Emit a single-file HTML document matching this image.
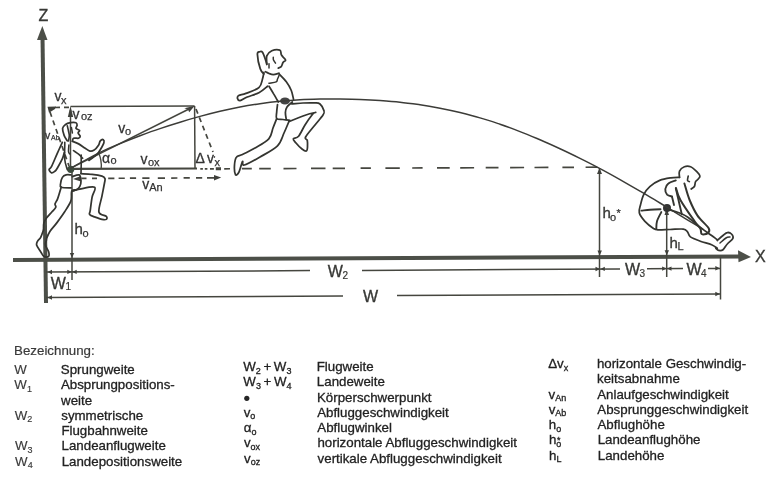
<!DOCTYPE html>
<html><head><meta charset="utf-8">
<style>
html,body{margin:0;padding:0;background:#fff;}
body{width:775px;height:485px;overflow:hidden;position:relative;}
svg{position:absolute;left:0;top:0;will-change:transform;filter:blur(0.3px);}
text{font-family:"Liberation Sans",sans-serif;fill:#222;stroke:#222;stroke-width:0.3px;}
.lg{font-size:13.3px;}
.sub{font-size:9px;}
.dl{font-size:16px;fill:#383936;stroke:#383936;stroke-width:0.35px;}
.ds{font-size:11px;fill:#383936;stroke:#383936;stroke-width:0.2px;}
.vl{font-size:14px;fill:#333;stroke:#333;stroke-width:0.3px;}
.vs{font-size:11px;fill:#333;stroke:#333;stroke-width:0.25px;}
</style></head><body>
<svg width="775" height="485" viewBox="0 0 775 485">
<!-- axes -->
<g stroke="#4c4f48" fill="none">
  <line x1="42.5" y1="36" x2="46" y2="303" stroke-width="4"/>
  <line x1="13" y1="260" x2="742" y2="256.5" stroke-width="4"/>
</g>
<polygon points="42.3,26 37,40 47.5,40" fill="#4c4f48"/>
<polygon points="751,257 738,250.3 738.5,262.3" fill="#4c4f48"/>
<text x="38.5" y="20.7" class="dl">Z</text>
<text x="755" y="262.2" class="dl">X</text>

<!-- dimension lines -->
<g stroke="#45463f" stroke-width="1.5" fill="none">
  <line x1="46" y1="272" x2="310" y2="270.6"/>
  <line x1="362" y1="270.4" x2="620" y2="268.9"/>
  <line x1="647" y1="268.8" x2="683" y2="268.6"/>
  <line x1="708" y1="268.5" x2="720" y2="268.4"/>
  <line x1="46" y1="297.6" x2="343" y2="296"/>
  <line x1="397" y1="295.6" x2="720" y2="294"/>
  <line x1="72" y1="169" x2="72" y2="280"/>
  <line x1="599.5" y1="168" x2="599.5" y2="277"/>
  <line x1="666.7" y1="208" x2="666.7" y2="277"/>
  <line x1="720.5" y1="257" x2="720.5" y2="299.5"/>
  <!-- rectangle & vectors -->
  <line x1="70.5" y1="106.5" x2="194.5" y2="106"/>
  <line x1="70.5" y1="169" x2="70.5" y2="110"/>
  <line x1="194.6" y1="106" x2="195" y2="168.5"/>
  <line x1="70.5" y1="168.8" x2="197" y2="168.5" stroke-width="2.2"/>
  <line x1="70.3" y1="168.4" x2="190" y2="108.5" stroke-width="1.6"/>
</g>
<g stroke="#45463f" stroke-width="1.7" fill="none" stroke-dasharray="5 4">
  <line x1="55" y1="107.5" x2="70" y2="107.3"/>
  <line x1="50" y1="112" x2="69" y2="166"/>
  <line x1="196" y1="109" x2="213" y2="152"/>
</g>
<path d="M200.3,168.90L202.9,168.89M204.8,168.88L207.4,168.87M210.0,168.86L213.9,168.84M224.2,168.80L230.0,168.77M241.9,168.72L251.8,168.68M259.2,168.65L270.8,168.60M283.5,168.55L296.5,168.49M311.0,168.43L325.5,168.37M332.7,168.34L345.0,168.28M360.6,168.22L370.9,168.17M385.4,168.11L399.8,168.05M412.2,168.00L422.6,167.95M437.0,167.89L449.7,167.84M460.2,167.79L474.1,167.74M485.7,167.69L498.5,167.63M510.1,167.58L524.1,167.52M534.5,167.48L548.4,167.42M562.4,167.36L574.0,167.31M585.6,167.26L597.2,167.21" stroke="#45463f" stroke-width="1.7" fill="none"/>
<path d="M215.8,168.83L221.0,168.81" stroke="#45463f" stroke-width="3" fill="none"/>
<path d="M81.4,178.45L86.5,178.42M92.0,178.40L97.0,178.37M108.2,178.32L114.4,178.29M118.6,178.27L124.8,178.24M129.9,178.22L136.1,178.19M142.3,178.16L149.5,178.13M157.8,178.09L165.0,178.06M171.2,178.03L177.4,178.00M183.6,177.97L189.8,177.94M196.0,177.91L202.2,177.88M207.0,177.86L216.0,177.82" stroke="#45463f" stroke-width="1.7" fill="none"/>
<polygon points="194.8,105.8 184.3,108.2 188,109.6 189.2,112.3" fill="#3f403b"/>
<polygon points="70.5,106 67.8,117 73.2,117" fill="#3f403b"/>
<polygon points="47.5,106.8 56,106.6 55,109 49,112.8" fill="#3f403b"/>
<polygon points="73,179 81,176 81,181.5" fill="#3f403b"/>
<polygon points="221.2,177.6 214,175 214,180.5" fill="#3f403b"/>
<polygon points="599.5,168 597,174 602,174" fill="#3f403b"/>
<polygon points="666.7,208 664.5,215 669,215" fill="#3f403b"/>
<circle cx="70.7" cy="169.3" r="3.6" fill="#3c4a3c"/>
<circle cx="667" cy="208" r="4" fill="#333"/>
<ellipse cx="285" cy="101" rx="5" ry="3.5" fill="#444"/>
<path d="M98.4,152.5 Q102,160 101.2,169" stroke="#45463f" stroke-width="1.4" fill="none"/>

<polygon points="47.5,272.0 52.0,269.8 52.0,274.2" fill="#3f403b"/>
<polygon points="71.8,271.9 67.3,274.1 67.3,269.7" fill="#3f403b"/>
<polygon points="72.2,271.9 76.7,269.7 76.7,274.1" fill="#3f403b"/>
<polygon points="600.0,269.0 595.5,271.2 595.5,266.8" fill="#3f403b"/>
<polygon points="600.3,268.9 604.8,266.7 604.8,271.1" fill="#3f403b"/>
<polygon points="666.6,268.6 662.1,270.8 662.1,266.4" fill="#3f403b"/>
<polygon points="667.0,268.6 671.5,266.4 671.5,270.8" fill="#3f403b"/>
<polygon points="719.8,268.3 715.3,270.5 715.3,266.1" fill="#3f403b"/>
<polygon points="47.5,297.5 52.0,295.3 52.0,299.7" fill="#3f403b"/>
<polygon points="719.8,294.0 715.3,296.2 715.3,291.8" fill="#3f403b"/>
<polygon points="72.0,258.0 69.8,253.0 74.2,253.0" fill="#3f403b"/>
<polygon points="599.7,255.5 597.5,250.5 601.9,250.5" fill="#3f403b"/>
<polygon points="666.8,255.2 664.6,250.2 669.0,250.2" fill="#3f403b"/>
<!-- trajectory -->
<path d="M70.3,168.4 C75.2,165.7 91.7,156.5 100.0,152.4 C108.3,148.2 113.3,146.4 120.0,143.6 C126.7,140.8 133.3,138.2 140.0,135.7 C146.7,133.2 153.3,130.8 160.0,128.6 C166.7,126.3 173.3,124.2 180.0,122.2 C186.7,120.1 193.3,118.2 200.0,116.4 C206.7,114.6 213.3,112.9 220.0,111.3 C226.7,109.8 233.3,108.4 240.0,107.1 C246.7,105.8 253.3,104.7 260.0,103.7 C266.7,102.8 273.3,102.0 280.0,101.3 C286.7,100.7 293.3,100.2 300.0,99.8 C306.7,99.5 313.3,99.3 320.0,99.1 C326.7,99.0 333.3,99.0 340.0,99.0 C346.7,99.1 353.3,99.2 360.0,99.5 C366.7,99.7 373.3,100.0 380.0,100.5 C386.7,101.0 393.3,101.5 400.0,102.2 C406.7,102.9 413.3,103.8 420.0,104.7 C426.7,105.7 433.3,106.9 440.0,108.2 C446.7,109.5 453.3,110.9 460.0,112.5 C466.7,114.2 473.3,115.9 480.0,117.9 C486.7,119.8 493.3,122.0 500.0,124.2 C506.7,126.5 513.3,129.0 520.0,131.6 C526.7,134.2 533.3,137.0 540.0,139.8 C546.7,142.7 553.3,145.7 560.0,148.8 C566.7,151.9 573.3,155.1 580.0,158.4 C586.7,161.7 593.3,165.1 600.0,168.6 C606.7,172.1 613.3,175.8 620.0,179.6 C626.7,183.4 633.3,187.2 640.0,191.1 C646.7,195.0 653.3,199.0 660.0,203.0 C666.7,207.1 673.3,211.2 680.0,215.3 C686.7,219.3 696.2,225.2 700.0,227.5 C703.8,229.8 702.5,229.0 703.0,229.3" stroke="#3c3c38" stroke-width="1.5" fill="none"/>

<!-- figures -->
<path d="M67.3,140.8 C66.8,139.9 65.0,137.7 64.2,135.6 C63.4,133.5 62.4,130.2 62.6,128.4 C62.8,126.6 63.9,125.8 65.2,124.8 C66.5,123.8 68.6,123.0 70.4,122.7 C72.2,122.4 74.9,122.3 76.0,122.7 C77.1,123.1 77.1,124.3 77.1,125.3 C77.1,126.2 75.6,127.5 76.0,128.4 C76.4,129.3 79.2,129.7 79.6,130.5 C79.9,131.3 78.0,132.1 78.1,133.0 C78.2,133.9 80.1,135.2 80.2,136.1 C80.3,137.0 79.7,137.8 78.6,138.2 C77.5,138.5 74.5,137.7 73.5,138.2 C72.5,138.7 72.6,140.8 72.4,141.3" stroke="#343530" stroke-width="1.75" fill="none" stroke-linejoin="round" stroke-linecap="round"/>
<path d="M67.3,125.8 C67.5,126.7 68.2,129.4 68.5,131.0 C68.8,132.6 69.3,133.9 69.3,135.6 C69.3,137.3 68.6,140.1 68.5,141.0" stroke="#343530" stroke-width="1.625" fill="none" stroke-linejoin="round" stroke-linecap="round"/>
<path d="M71.4,127.4 C71.6,128.3 72.2,132.1 72.4,133.0" stroke="#343530" stroke-width="1.5" fill="none" stroke-linejoin="round" stroke-linecap="round"/>
<path d="M72.4,141.3 C73.4,141.7 76.5,142.8 78.6,143.9 C80.7,145.0 82.9,146.8 84.8,148.0 C86.7,149.2 88.5,150.8 90.0,151.1 C91.5,151.4 92.6,151.1 94.1,150.1 C95.5,149.1 97.7,146.4 98.7,144.9 C99.7,143.4 99.5,141.7 100.3,140.8 C101.1,139.9 102.8,139.4 103.4,139.7 C104.0,140.0 104.2,141.4 103.9,142.8 C103.6,144.2 102.4,146.1 101.3,148.0 C100.2,149.9 98.8,152.5 97.2,154.2 C95.7,155.9 93.4,157.3 92.0,158.3 C90.6,159.3 89.4,160.1 88.9,160.4" stroke="#343530" stroke-width="1.75" fill="none" stroke-linejoin="round" stroke-linecap="round"/>
<path d="M73.5,150.6 C74.3,151.2 77.1,152.9 78.6,154.2 C80.1,155.5 82.0,157.6 82.7,158.3" stroke="#343530" stroke-width="1.625" fill="none" stroke-linejoin="round" stroke-linecap="round"/>
<path d="M81.2,155.0 C81.2,156.7 81.2,161.9 81.2,165.0 C81.2,168.1 81.0,172.1 81.0,173.5" stroke="#343530" stroke-width="1.625" fill="none" stroke-linejoin="round" stroke-linecap="round"/>
<path d="M62.3,142.4 C61.5,144.2 59.2,149.1 57.4,153.1 C55.6,157.1 53.0,163.6 51.6,166.3 C50.2,169.1 49.1,168.5 49.1,169.6 C49.1,170.7 50.6,172.6 51.6,172.9 C52.6,173.2 53.9,172.1 54.9,171.3 C55.9,170.5 56.2,170.1 57.4,168.0 C58.6,165.9 61.1,161.5 62.3,158.9 C63.5,156.3 64.1,153.4 64.4,152.3" stroke="#343530" stroke-width="1.75" fill="none" stroke-linejoin="round" stroke-linecap="round"/>
<path d="M64.8,142.4 C64.8,145.3 64.4,155.2 64.8,159.7 C65.2,164.2 66.9,167.9 67.3,169.6" stroke="#343530" stroke-width="1.625" fill="none" stroke-linejoin="round" stroke-linecap="round"/>
<path d="M68.9,144.9 C68.8,146.0 68.4,150.0 68.5,151.5 C68.6,153.0 69.5,153.6 69.7,154.0" stroke="#343530" stroke-width="1.5" fill="none" stroke-linejoin="round" stroke-linecap="round"/>
<path d="M71.1,174.9 C70.3,174.9 67.5,174.5 66.1,174.9 C64.6,175.3 63.3,176.0 62.4,177.4 C61.5,178.8 60.8,181.9 60.6,183.5 C60.4,185.1 59.5,186.5 61.2,187.2 C63.0,187.9 69.4,187.8 71.1,187.9" stroke="#343530" stroke-width="1.75" fill="none" stroke-linejoin="round" stroke-linecap="round"/>
<path d="M72.3,176.7 C73.4,176.4 77.6,174.2 79.1,174.9 C80.5,175.6 80.9,179.2 81.0,181.1 C81.1,183.0 80.4,185.2 79.7,186.6 C79.0,188.0 77.8,189.0 76.6,189.7 C75.4,190.4 73.0,190.8 72.3,191.0" stroke="#343530" stroke-width="1.75" fill="none" stroke-linejoin="round" stroke-linecap="round"/>
<path d="M81.0,173.7 C82.8,173.8 88.6,173.9 92.1,174.3 C95.6,174.7 99.8,175.4 102.0,176.1 C104.2,176.8 104.6,177.4 105.0,178.6 C105.4,179.8 104.9,180.6 104.4,183.5 C103.9,186.4 102.9,191.2 102.0,195.9 C101.1,200.7 98.2,208.6 98.9,212.0 C99.6,215.4 105.1,215.1 106.3,216.3 C107.5,217.5 107.0,218.9 106.3,219.4 C105.6,219.9 104.0,219.8 102.0,219.4 C100.0,219.0 96.7,217.7 94.6,216.9 C92.5,216.1 90.3,215.4 89.6,214.4 C88.9,213.4 89.8,213.6 90.2,210.7 C90.6,207.8 91.4,201.0 92.1,197.1 C92.8,193.2 96.7,188.5 94.6,187.2 C92.5,185.9 83.4,188.5 79.7,189.1 C76.0,189.7 73.5,190.7 72.3,191.0" stroke="#343530" stroke-width="1.75" fill="none" stroke-linejoin="round" stroke-linecap="round"/>
<path d="M61.2,187.2 C60.8,188.4 59.6,192.5 59.0,194.5 C58.4,196.5 58.1,197.7 57.4,199.3 C56.7,200.9 55.3,202.7 55.0,204.0 C54.7,205.3 56.3,205.9 55.8,207.2 C55.3,208.5 53.4,210.2 51.8,212.0 C50.2,213.8 47.6,216.5 46.3,218.3 C45.0,220.1 44.4,221.1 43.9,223.0 C43.4,224.9 43.6,228.8 43.5,230.0" stroke="#343530" stroke-width="1.75" fill="none" stroke-linejoin="round" stroke-linecap="round"/>
<path d="M43.5,230.0 C43.0,231.2 41.7,235.5 40.7,237.4 C39.7,239.3 38.2,240.0 37.5,241.3 C36.8,242.6 36.2,243.6 36.7,245.3 C37.2,247.0 39.5,249.8 40.7,251.7 C41.9,253.5 42.6,255.6 43.9,256.4 C45.2,257.2 47.8,257.2 48.6,256.4 C49.4,255.6 49.1,253.5 48.6,251.7 C48.1,249.8 45.9,247.2 45.5,245.3 C45.1,243.4 46.0,241.8 46.3,240.5 C46.5,239.2 46.4,239.0 47.0,237.4 C47.6,235.8 48.6,233.4 50.2,231.0 C51.8,228.6 54.2,226.3 56.6,223.1 C59.0,219.9 62.1,215.7 64.5,212.0 C66.9,208.3 69.7,204.3 70.9,200.9 C72.1,197.5 70.9,193.2 71.7,191.3 C72.5,189.5 74.9,190.1 75.6,189.8" stroke="#343530" stroke-width="1.75" fill="none" stroke-linejoin="round" stroke-linecap="round"/>
<path d="M266.8,64.5 C266.7,64.0 266.8,63.6 266.1,61.6 C265.4,59.6 263.6,53.9 262.5,52.3 C261.4,50.7 260.4,51.4 259.5,51.8 C258.6,52.1 257.3,51.5 257.4,54.4 C257.5,57.2 259.2,65.7 260.3,68.9 C261.4,72.2 263.3,73.1 263.9,73.9" stroke="#343530" stroke-width="1.75" fill="none" stroke-linejoin="round" stroke-linecap="round"/>
<path d="M266.8,64.0 C266.8,62.6 266.0,58.1 266.8,55.9 C267.6,53.7 269.6,51.8 271.8,50.8 C274.0,49.8 278.2,49.5 279.8,50.1 C281.4,50.7 280.7,53.2 281.2,54.4 C281.7,55.5 282.3,56.0 283.0,57.0 C283.7,58.0 285.6,59.3 285.6,60.2 C285.6,61.1 283.7,61.4 283.0,62.5 C282.3,63.6 282.0,65.8 281.2,66.7 C280.4,67.6 278.8,67.9 278.3,68.1" stroke="#343530" stroke-width="1.75" fill="none" stroke-linejoin="round" stroke-linecap="round"/>
<path d="M273.3,57.3 C273.3,57.8 273.1,59.0 273.5,60.0 C273.9,61.0 275.2,62.6 275.5,63.1" stroke="#343530" stroke-width="1.5" fill="none" stroke-linejoin="round" stroke-linecap="round"/>
<path d="M269.0,63.8 C269.0,64.5 269.0,67.4 269.0,68.1" stroke="#343530" stroke-width="1.5" fill="none" stroke-linejoin="round" stroke-linecap="round"/>
<path d="M265.4,71.7 C266.0,72.0 267.7,73.0 269.0,73.5 C270.3,74.0 271.6,74.6 273.3,74.6 C275.0,74.5 278.1,73.4 279.0,73.2" stroke="#343530" stroke-width="1.75" fill="none" stroke-linejoin="round" stroke-linecap="round"/>
<path d="M263.9,72.5 C263.7,73.6 263.3,76.5 262.5,79.0 C261.7,81.5 261.7,85.2 258.9,87.6 C256.1,90.0 249.3,92.1 245.9,93.4 C242.5,94.7 240.1,94.8 238.7,95.6 C237.3,96.4 237.3,97.7 237.5,98.5 C237.7,99.3 238.5,100.8 240.1,100.6 C241.7,100.3 244.2,98.3 247.3,97.0 C250.4,95.7 255.5,94.5 258.9,92.7 C262.3,90.9 266.1,87.3 267.5,86.2" stroke="#343530" stroke-width="1.75" fill="none" stroke-linejoin="round" stroke-linecap="round"/>
<path d="M279.0,75.4 C278.8,76.0 278.0,77.9 277.5,79.0 C277.0,80.1 277.6,81.1 276.2,81.8 C274.8,82.5 270.2,83.0 269.0,83.3" stroke="#343530" stroke-width="1.5" fill="none" stroke-linejoin="round" stroke-linecap="round"/>
<path d="M279.0,73.9 C280.2,75.2 284.2,79.0 286.3,81.8 C288.4,84.6 290.1,87.6 291.3,90.5 C292.5,93.4 293.1,97.8 293.5,99.2" stroke="#343530" stroke-width="1.75" fill="none" stroke-linejoin="round" stroke-linecap="round"/>
<path d="M269.0,86.2 C269.7,87.4 271.8,90.8 273.3,93.4 C274.9,96.0 277.5,100.6 278.3,102.0" stroke="#343530" stroke-width="1.75" fill="none" stroke-linejoin="round" stroke-linecap="round"/>
<path d="M277.5,104.6 C277.4,105.8 276.8,109.7 276.7,112.0 C276.6,114.3 275.6,117.3 276.7,118.6 C277.8,119.8 280.8,119.2 283.0,119.5 C285.2,119.8 288.7,120.2 289.8,120.4" stroke="#343530" stroke-width="1.75" fill="none" stroke-linejoin="round" stroke-linecap="round"/>
<path d="M292.4,102.0 C291.5,102.8 288.2,105.2 287.0,107.0 C285.8,108.8 285.5,110.4 285.4,112.5 C285.3,114.6 286.1,118.3 286.3,119.5" stroke="#343530" stroke-width="1.75" fill="none" stroke-linejoin="round" stroke-linecap="round"/>
<path d="M291.5,103.8 C293.4,103.7 299.2,103.2 303.0,103.0 C306.8,102.8 311.5,102.7 314.3,102.9 C317.1,103.1 318.4,102.7 320.0,104.0 C321.6,105.3 323.5,109.0 324.0,110.8 C324.5,112.6 324.5,112.6 323.0,115.0 C321.5,117.4 317.9,121.3 315.0,125.0 C312.1,128.7 306.9,134.4 305.6,137.0 C304.3,139.6 307.0,138.8 307.3,140.5 C307.6,142.2 307.6,145.2 307.5,147.0 C307.4,148.8 307.3,150.7 306.4,151.0 C305.5,151.3 303.7,150.3 302.0,149.0 C300.3,147.7 297.4,144.7 296.0,143.0 C294.6,141.3 292.9,139.9 293.3,138.8 C293.7,137.7 296.7,138.5 298.6,136.2 C300.6,133.9 302.7,128.7 305.0,125.0 C307.3,121.3 310.9,116.4 312.6,114.3 C314.3,112.2 316.8,112.2 315.2,112.5 C313.6,112.8 307.2,114.5 303.0,116.0 C298.8,117.5 292.0,120.4 289.8,121.3" stroke="#343530" stroke-width="1.75" fill="none" stroke-linejoin="round" stroke-linecap="round"/>
<path d="M276.7,118.6 C276.1,120.2 274.3,124.6 273.0,128.0 C271.7,131.4 271.8,135.5 268.8,138.8 C265.8,142.1 259.4,145.4 255.0,148.0 C250.6,150.6 245.6,153.0 242.5,154.5 C239.4,156.0 237.7,155.4 236.4,157.2 C235.1,158.9 234.7,162.1 234.5,165.0 C234.3,167.9 234.8,173.5 235.5,174.7 C236.2,175.9 237.8,174.2 239.0,172.0 C240.2,169.8 241.6,162.7 242.5,161.5 C243.4,160.3 241.4,165.8 244.3,165.0 C247.2,164.2 254.5,160.2 260.0,157.0 C265.5,153.8 273.5,149.8 277.5,145.8 C281.5,141.8 282.1,137.1 284.0,133.0 C285.9,128.9 288.2,123.2 289.0,121.3" stroke="#343530" stroke-width="1.75" fill="none" stroke-linejoin="round" stroke-linecap="round"/>
<path d="M679.5,177.3 C679.5,176.3 678.7,172.8 679.5,171.1 C680.3,169.3 682.5,167.5 684.4,166.8 C686.2,166.1 688.5,166.0 690.6,166.8 C692.7,167.6 695.2,170.1 696.8,171.7 C698.3,173.2 699.7,174.8 699.9,176.1 C700.1,177.3 698.7,178.3 698.0,179.2 C697.3,180.1 696.1,180.8 695.6,181.6 C695.1,182.4 695.2,183.3 695.0,184.1 C694.8,184.9 694.9,185.8 694.3,186.6 C693.7,187.4 691.7,188.6 691.2,189.0" stroke="#343530" stroke-width="1.75" fill="none" stroke-linejoin="round" stroke-linecap="round"/>
<path d="M688.2,176.1 C688.1,176.8 687.3,179.5 687.5,180.4 C687.7,181.3 689.1,181.4 689.4,181.6" stroke="#343530" stroke-width="1.625" fill="none" stroke-linejoin="round" stroke-linecap="round"/>
<path d="M679.5,177.3 C678.0,177.4 674.1,177.4 670.8,177.9 C667.5,178.4 663.2,179.0 659.7,180.4 C656.2,181.8 652.5,184.2 649.8,186.6 C647.1,189.0 645.2,191.6 643.7,194.6 C642.2,197.6 641.3,201.5 640.6,204.5 C639.9,207.5 638.6,210.0 639.3,212.8 C640.0,215.6 642.5,218.7 644.9,221.3 C647.3,223.9 651.4,227.0 653.5,228.4 C655.6,229.8 655.0,229.6 657.7,229.8 C660.5,230.0 665.7,229.6 670.0,229.5 C674.3,229.4 680.4,228.7 683.3,229.1 C686.2,229.5 686.3,230.6 687.5,231.9 C688.7,233.2 688.3,235.4 690.4,236.9 C692.5,238.4 696.8,239.9 700.3,241.2 C703.8,242.5 708.8,243.5 711.6,244.7 C714.4,245.9 716.3,247.7 717.3,248.3" stroke="#343530" stroke-width="1.75" fill="none" stroke-linejoin="round" stroke-linecap="round"/>
<path d="M641.4,210.6 C642.8,210.5 646.8,210.0 650.0,209.8 C653.2,209.6 658.8,209.3 660.5,209.2" stroke="#343530" stroke-width="1.875" fill="none" stroke-linejoin="round" stroke-linecap="round"/>
<path d="M661.3,212.1 C660.6,213.6 657.8,218.5 657.0,221.3 C656.2,224.1 656.4,227.8 656.3,229.1" stroke="#343530" stroke-width="1.875" fill="none" stroke-linejoin="round" stroke-linecap="round"/>
<path d="M675.8,180.4 C674.6,180.9 670.1,182.1 668.4,183.5 C666.6,184.9 665.5,187.2 665.3,189.0 C665.1,190.8 666.0,193.3 667.1,194.6 C668.2,195.8 671.3,196.2 672.1,196.5" stroke="#343530" stroke-width="1.875" fill="none" stroke-linejoin="round" stroke-linecap="round"/>
<path d="M667.6,209.2 C669.5,209.8 675.7,211.5 679.0,212.8 C682.3,214.1 684.9,215.3 687.5,217.0 C690.1,218.7 692.2,220.8 694.6,222.7 C697.0,224.6 698.9,226.3 701.7,228.4 C704.5,230.5 709.0,233.6 711.6,235.5 C714.2,237.4 716.3,239.0 717.3,239.7" stroke="#343530" stroke-width="1.75" fill="none" stroke-linejoin="round" stroke-linecap="round"/>
<path d="M675.8,188.4 C676.2,190.3 677.5,195.7 678.5,200.0 C679.5,204.3 681.2,211.8 681.8,214.2" stroke="#343530" stroke-width="1.875" fill="none" stroke-linejoin="round" stroke-linecap="round"/>
<path d="M672.1,197.1 C672.4,198.4 673.7,203.7 674.0,205.0" stroke="#343530" stroke-width="1.875" fill="none" stroke-linejoin="round" stroke-linecap="round"/>
<path d="M684.4,183.5 C685.3,186.2 687.4,194.7 689.6,200.0 C691.8,205.3 694.3,210.9 697.5,215.6 C700.7,220.3 707.1,225.4 708.8,228.4 C710.4,231.4 708.6,232.5 707.4,233.4 C706.2,234.3 702.9,234.8 701.7,234.0 C700.5,233.2 701.5,230.5 700.3,228.4 C699.1,226.3 697.9,226.0 694.6,221.3 C691.3,216.6 683.5,205.6 680.4,200.0 C677.3,194.4 676.7,190.0 676.0,188.0" stroke="#343530" stroke-width="2.0" fill="none" stroke-linejoin="round" stroke-linecap="round"/>
<path d="M717.3,240.5 C718.2,239.7 721.3,236.8 723.0,235.5 C724.7,234.2 725.9,232.8 727.3,232.6 C728.7,232.3 730.6,233.1 731.5,234.0 C732.4,234.9 733.6,236.6 732.9,238.3 C732.2,240.0 728.9,242.1 727.3,244.0 C725.6,245.9 724.4,248.6 723.0,249.7 C721.6,250.8 719.9,250.6 718.7,250.4 C717.5,250.2 716.4,248.7 715.9,248.3" stroke="#343530" stroke-width="1.75" fill="none" stroke-linejoin="round" stroke-linecap="round"/>
<path d="M720.0,243.0 C721.0,242.2 724.3,239.0 726.0,238.0 C727.7,237.0 729.3,237.2 730.0,237.0" stroke="#343530" stroke-width="1.5" fill="none" stroke-linejoin="round" stroke-linecap="round"/>

<!-- diagram labels -->
<text class="vl" x="54.5" y="100.9">v</text><text class="vs" x="61" y="103.6">x</text>
<text class="vl" x="72.5" y="118.9">v</text><text class="vs" x="81" y="120.2">oz</text>
<text class="vl" x="118.3" y="133">v</text><text class="vs" x="125" y="135">o</text>
<text class="vl" x="45" y="138.6" style="font-size:10.5px">v</text><text class="vs" x="51" y="140.4" style="font-size:7px">Ab</text>
<text class="vl" x="102" y="163.3">α</text><text class="vs" x="110.5" y="164.4">o</text>
<text class="vl" x="140.6" y="164.4">v</text><text class="vs" x="148" y="166.1">ox</text>
<text class="vl" x="142.3" y="189.4">v</text><text class="vs" x="149.2" y="191">An</text>
<text class="vl" x="195.5" y="163.2">Δ</text><text class="vl" x="207" y="162.7">v</text><text class="vs" x="214.4" y="165.5">x</text>
<text class="vs" x="213.5" y="157" style="font-size:8px">,</text>
<text class="dl" x="74.5" y="233.5" style="font-size:15px">h</text><text class="vs" x="82.5" y="236.8">o</text>
<text class="dl" x="602.5" y="218" style="font-size:15px">h</text><text class="vs" x="610" y="220.8">o</text><text class="vs" x="616.5" y="217">*</text>
<text class="dl" x="669.5" y="247.6" style="font-size:15px">h</text><text class="vs" x="677.5" y="249.8">L</text>
<text class="dl" x="50.7" y="288.6">W</text><text class="ds" x="65.5" y="290.4" style="font-size:10px">1</text>
<text class="dl" x="327.8" y="277">W</text><text class="ds" x="342.5" y="278.8" style="font-size:10px">2</text>
<text class="dl" x="363" y="302">W</text>
<text class="dl" x="625" y="275.3">W</text><text class="ds" x="639.5" y="277.2" style="font-size:10px">3</text>
<text class="dl" x="686.5" y="275.3">W</text><text class="ds" x="701" y="277.2" style="font-size:10px">4</text>

<!-- legend -->
<text class="lg" x="14.1" y="355" style="fill:#3a3a3a;stroke:#3a3a3a;stroke-width:0.2px">Bezeichnung:</text>
<text class="lg" x="14.20" y="374.10" style="fill:#3a3a3a;stroke:#3a3a3a;stroke-width:0.15px">W</text>
<text class="lg" x="60.80" y="374.10">Sprungweite</text>
<text class="lg" x="14.35" y="389.35" style="fill:#3a3a3a;stroke:#3a3a3a;stroke-width:0.15px">W<tspan class="sub" dy="2.5">1</tspan></text>
<text class="lg" x="60.95" y="389.35">Absprungpositions-</text>
<text class="lg" x="61.10" y="404.60">weite</text>
<text class="lg" x="14.65" y="419.85" style="fill:#3a3a3a;stroke:#3a3a3a;stroke-width:0.15px">W<tspan class="sub" dy="2.5">2</tspan></text>
<text class="lg" x="61.25" y="419.85">symmetrische</text>
<text class="lg" x="61.40" y="435.10">Flugbahnweite</text>
<text class="lg" x="14.95" y="450.35" style="fill:#3a3a3a;stroke:#3a3a3a;stroke-width:0.15px">W<tspan class="sub" dy="2.5">3</tspan></text>
<text class="lg" x="61.55" y="450.35">Landeanflugweite</text>
<text class="lg" x="15.10" y="465.60" style="fill:#3a3a3a;stroke:#3a3a3a;stroke-width:0.15px">W<tspan class="sub" dy="2.5">4</tspan></text>
<text class="lg" x="61.70" y="465.60">Landepositionsweite</text>
<text class="lg" x="243.20" y="371.00">W<tspan class="sub" dy="2.5">2</tspan><tspan dy="-2.5"> + W</tspan><tspan class="sub" dy="2.5">3</tspan></text>
<text class="lg" x="316.70" y="371.00">Flugweite</text>
<text class="lg" x="243.35" y="386.25">W<tspan class="sub" dy="2.5">3</tspan><tspan dy="-2.5"> + W</tspan><tspan class="sub" dy="2.5">4</tspan></text>
<text class="lg" x="316.85" y="386.25">Landeweite</text>
<circle cx="246.80" cy="398.30" r="2.6" fill="#262626"/>
<text class="lg" x="317.00" y="401.50">Körperschwerpunkt</text>
<text class="lg" x="243.65" y="416.75">v<tspan class="sub" dy="2.5">o</tspan></text>
<text class="lg" x="317.15" y="416.75">Abfluggeschwindigkeit</text>
<text class="lg" x="243.80" y="432.00">α<tspan class="sub" dy="2.5">o</tspan></text>
<text class="lg" x="317.30" y="432.00">Abflugwinkel</text>
<text class="lg" x="243.95" y="447.25">v<tspan class="sub" dy="2.5">ox</tspan></text>
<text class="lg" x="317.45" y="447.25">horizontale Abfluggeschwindigkeit</text>
<text class="lg" x="244.10" y="462.50">v<tspan class="sub" dy="2.5">oz</tspan></text>
<text class="lg" x="317.60" y="462.50">vertikale Abfluggeschwindigkeit</text>
<text class="lg" x="548.20" y="368.10">Δv<tspan class="sub" dy="2.5">x</tspan></text>
<text class="lg" x="596.90" y="368.10">horizontale Geschwindig-</text>
<text class="lg" x="597.05" y="383.35">keitsabnahme</text>
<text class="lg" x="548.50" y="398.60">v<tspan class="sub" dy="2.5">An</tspan></text>
<text class="lg" x="597.20" y="398.60">Anlaufgeschwindigkeit</text>
<text class="lg" x="548.65" y="413.85">v<tspan class="sub" dy="2.5">Ab</tspan></text>
<text class="lg" x="597.35" y="413.85">Absprunggeschwindigkeit</text>
<text class="lg" x="548.80" y="429.10">h<tspan class="sub" dy="2.5">o</tspan></text>
<text class="lg" x="597.50" y="429.10">Abflughöhe</text>
<text class="lg" x="548.95" y="444.35">h<tspan class="sub" dy="2.5">o</tspan></text>
<text class="lg" x="597.65" y="444.35">Landeanflughöhe</text>
<text class="lg" x="549.10" y="459.60">h<tspan class="sub" dy="2.5">L</tspan></text>
<text class="lg" x="597.80" y="459.60">Landehöhe</text>
<text x="556.95" y="443.15" style="font-size:9px">*</text>
</svg>
</body></html>
